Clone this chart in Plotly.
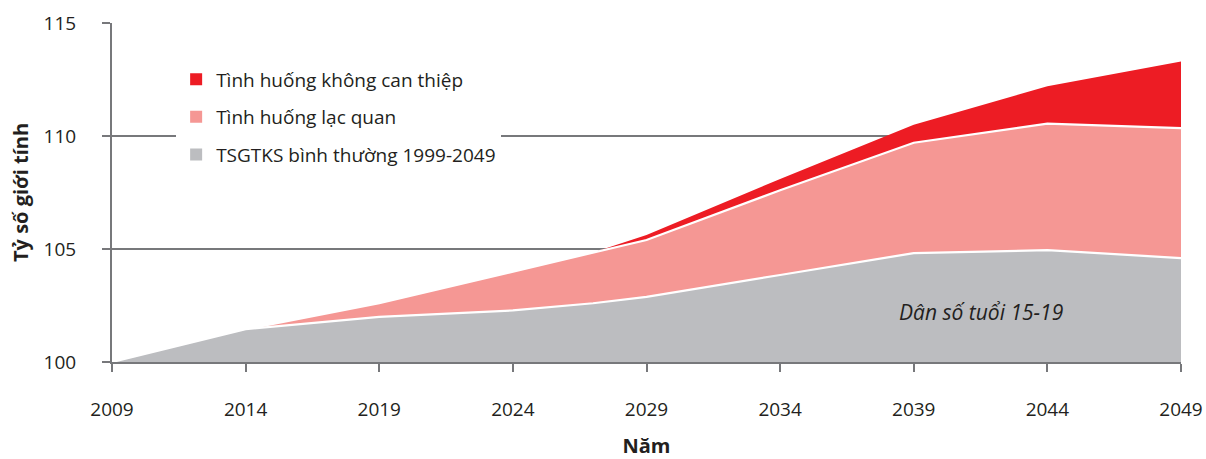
import plotly.graph_objects as go

years = [2009, 2014, 2019, 2024, 2027, 2029, 2034, 2039, 2044, 2049]
normal = [100.0, 101.45, 102.0, 102.28, 102.6, 102.88, 103.85, 104.82, 104.95, 104.6]
optimistic = [100.0, 101.45, 102.6, 104.0, 104.84, 105.4, 107.6, 109.7, 110.55, 110.35]
no_interv = [100.0, 101.45, 102.6, 104.0, 104.84, 105.62, 108.1, 110.5, 112.2, 113.3]

names = ["Tình huống không can thiệp", "Tình huống lạc quan", "TSGTKS bình thường 1999-2049"]
colors = ["#ED1C24", "#F59794", "#BCBDC0"]
series = [no_interv, optimistic, normal]
line_cols = [None, "white", "white"]

FONT = "Open Sans"
fig = go.Figure()

for s, c, lc in zip(series, colors, line_cols):
    fig.add_trace(go.Scatter(
        x=years, y=s, mode="lines", fill="tozeroy", fillcolor=c,
        line=dict(color=lc if lc else c, width=2.2 if lc else 0),
        showlegend=False, hoverinfo="skip"))

for i, (n, c) in enumerate(zip(names, colors)):
    fig.add_trace(go.Scatter(
        x=[None], y=[None], mode="markers", name=n,
        marker=dict(symbol="square", size=12, color=c),
        legendgroup=f"g{i}"))

grid_col = "#77787B"
fig.update_layout(
    width=1206, height=459,
    margin=dict(l=112, r=25, t=23, b=97),
    plot_bgcolor="white", paper_bgcolor="white",
    font=dict(family=FONT, size=19, color="#231F20"),
    showlegend=True,
    legend=dict(x=0.06, y=0.89, xanchor="left", yanchor="top",
                bgcolor="white", font=dict(size=19, family=FONT),
                traceorder="grouped", tracegroupgap=10,
                itemwidth=30),
    xaxis=dict(range=[2009, 2049], tickmode="linear", tick0=2009, dtick=5,
               showgrid=False, zeroline=False, showline=True, automargin=False,
               linecolor=grid_col, linewidth=2, ticks="outside",
               ticklen=8, tickwidth=2, tickcolor=grid_col,
               ticklabelstandoff=21,
               title=dict(text="<b>Năm</b>", font=dict(size=20), standoff=33)),
    yaxis=dict(range=[100, 115], tickmode="array", tickvals=[100, 105, 110, 115],
               showgrid=True, gridcolor=grid_col, gridwidth=2, automargin=False,
               zeroline=False, showline=True, linecolor=grid_col, linewidth=2,
               ticks="outside", ticklen=8, tickwidth=2, tickcolor=grid_col,
               ticklabelstandoff=22,
               title=dict(text="<b>Tỷ số giới tính</b>", font=dict(size=20), standoff=10)),
)

fig.add_annotation(x=2041.5, y=102.2, text="<i>Dân số tuổi 15-19</i>",
                   showarrow=False, font=dict(size=21, family=FONT, color="#231F20"))

# remove the default 8px page margin so the figure fills the window exactly
fig.write_html("out.html", config={"displayModeBar": False},
               post_script="document.body.style.margin='0';")
